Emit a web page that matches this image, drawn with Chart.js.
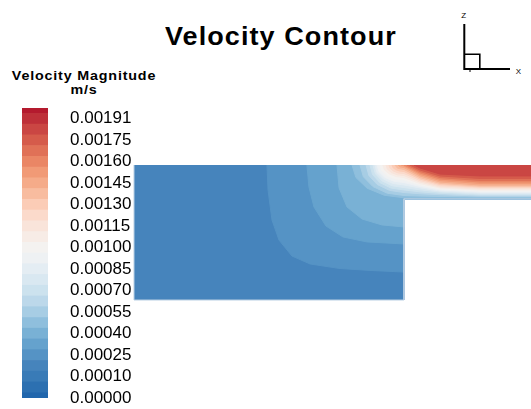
<!DOCTYPE html>
<html lang="en">
<head>
<meta charset="utf-8">
<title>Velocity Contour</title>
<script src="https://cdn.jsdelivr.net/npm/chart.js@4.4.1/dist/chart.umd.min.js"></script>
<style>
  html, body { margin: 0; padding: 0; background: #fff; }
  body { position: relative; width: 531px; height: 409px; overflow: hidden; font-family: "Liberation Sans", Arial, sans-serif; color: #000; }
  canvas, svg { position: absolute; top: 0; left: 0; }
  .plot-title { position: absolute; left: 165px; top: 24px; font: bold 25px/25px "Liberation Sans", Arial, sans-serif; letter-spacing: 1px; white-space: nowrap; transform: scaleX(1.08); transform-origin: 0 0; }
  .legend-title { position: absolute; left: 0; top: 69.4px; width: 168px; text-align: center; font: bold 13px/13.6px "Liberation Sans", Arial, sans-serif; letter-spacing: 0.75px; white-space: nowrap; transform: scaleX(1.1); transform-origin: 84px 0; }
</style>
</head>
<body>
  <div class="plot-title">Velocity Contour</div>
  <div class="legend-title">Velocity Magnitude<br>m/s</div>
  <svg width="531" height="80" viewBox="0 0 531 80">
    <g stroke="#000" fill="none">
      <path d="M464.3 24 V68.9 H510" stroke-width="2"/>
      <path d="M464.3 54.3 H479.8 V68.9" stroke-width="1.6"/>
      <path d="M470 68.9 V72" stroke-width="1"/>
    </g>
    <text x="463.8" y="17.5" font-size="8" font-family="Liberation Sans, Arial" text-anchor="middle">Z</text>
    <text x="518.5" y="74" font-size="8" font-family="Liberation Sans, Arial" text-anchor="middle">X</text>
  </svg>
  <canvas id="fieldChart" width="531" height="409"></canvas>
  <canvas id="legendChart" width="148" height="409"></canvas>

<script>
// contour levels 0..27, labelled on every second level
const legendLabels = ["0.00000", "0.00010", "0.00025", "0.00040", "0.00055", "0.00070", "0.00085",
  "0.00100", "0.00115", "0.00130", "0.00145", "0.00160", "0.00175", "0.00191"];
const legendLevels = [0, 2, 4, 6, 8, 10, 12, 14, 16, 18, 20, 22, 24, 26];

const levelColors = [
  "#2166ac", "#2c70b1", "#397bb7", "#4684bc", "#5593c5", "#65a2cd", "#79b1d5",
  "#8fbfdd", "#a7cde4", "#bcd8ea", "#cce2ee", "#d9e8f1", "#e4edf3", "#eef1f3",
  "#f4f2f0", "#f7ece6", "#f9e4da", "#fbdacb", "#fbccb6", "#f8bc9f", "#f5ab89",
  "#f19a76", "#ea8665", "#e07157", "#d55b4b", "#ca4643", "#be3039", "#b41a2e",
];

// geometry in mm: cavity 2.0 x 1.0, channel 0.25 high above its right end
const domain = [[0, 1], [2.941, 1], [2.941, 0.75], [2.0, 0.75], [2.0, 0], [0, 0]];
const walls = [[2.941, 0.75], [2.0, 0.75], [2.0, 0], [0, 0], [0, 1]];

// iso-velocity lines [x, z]; region above/right of isoNN has level NN
const iso04 = [[0.985, 1.0], [0.993, 0.815], [1.022, 0.593], [1.074, 0.444], [1.170, 0.326], [1.304, 0.267], [1.526, 0.233], [1.748, 0.219], [2.0, 0.207]];
const iso05 = [[1.281, 1.0], [1.296, 0.837], [1.333, 0.689], [1.422, 0.548], [1.548, 0.467], [1.726, 0.430], [2.0, 0.415]];
const iso06 = [[1.504, 1.0], [1.519, 0.830], [1.578, 0.689], [1.689, 0.600], [1.837, 0.556], [2.0, 0.541]];
const iso07 = [[1.615, 1.0], [1.644, 0.907], [1.727, 0.828], [1.853, 0.776], [2.0, 0.757], [2.119, 0.759], [2.941, 0.759]];
const iso08 = [[1.674, 1.0], [1.699, 0.913], [1.770, 0.840], [1.876, 0.791], [2.0, 0.774], [2.119, 0.770], [2.267, 0.767], [2.563, 0.764], [2.941, 0.764]];
const iso09 = [[1.719, 1.0], [1.740, 0.922], [1.801, 0.856], [1.893, 0.812], [2.0, 0.796], [2.119, 0.787], [2.267, 0.780], [2.563, 0.770], [2.941, 0.770]];
const iso10 = [[1.748, 1.0], [1.767, 0.929], [1.822, 0.869], [1.904, 0.829], [2.0, 0.815], [2.119, 0.801], [2.267, 0.790], [2.563, 0.778], [2.941, 0.778]];
const iso11 = [[1.770, 1.0], [1.788, 0.936], [1.838, 0.882], [1.912, 0.846], [2.0, 0.833], [2.119, 0.816], [2.267, 0.800], [2.563, 0.785], [2.941, 0.785]];
const iso12 = [[1.785, 1.0], [1.801, 0.943], [1.848, 0.896], [1.918, 0.863], [2.0, 0.852], [2.119, 0.830], [2.267, 0.807], [2.563, 0.793], [2.941, 0.793]];
const iso13 = [[1.800, 1.0], [1.816, 0.950], [1.859, 0.908], [1.924, 0.880], [2.0, 0.870], [2.119, 0.841], [2.267, 0.815], [2.563, 0.800], [2.941, 0.800]];
const iso14 = [[1.822, 1.0], [1.836, 0.958], [1.874, 0.921], [1.932, 0.897], [2.0, 0.889], [2.119, 0.852], [2.267, 0.822], [2.563, 0.807], [2.941, 0.807]];
const iso15 = [[1.844, 1.0], [1.856, 0.964], [1.890, 0.935], [1.941, 0.915], [2.0, 0.907], [2.119, 0.863], [2.267, 0.830], [2.563, 0.815], [2.941, 0.815]];
const iso16 = [[1.867, 1.0], [1.877, 0.970], [1.906, 0.945], [1.949, 0.928], [2.0, 0.922], [2.119, 0.874], [2.267, 0.837], [2.563, 0.822], [2.941, 0.822]];
const iso17 = [[1.889, 1.0], [1.897, 0.976], [1.921, 0.956], [1.958, 0.941], [2.0, 0.937], [2.119, 0.885], [2.267, 0.846], [2.563, 0.830], [2.941, 0.830]];
const iso18 = [[1.911, 1.0], [1.918, 0.981], [1.937, 0.966], [1.966, 0.956], [2.0, 0.952], [2.119, 0.896], [2.267, 0.855], [2.563, 0.837], [2.941, 0.837]];
const iso19 = [[1.933, 1.0], [1.953, 0.976], [2.0, 0.967], [2.119, 0.907], [2.267, 0.864], [2.563, 0.844], [2.941, 0.844]];
const iso20 = [[1.956, 1.0], [1.969, 0.987], [2.0, 0.981], [2.119, 0.919], [2.267, 0.874], [2.563, 0.852], [2.941, 0.852]];
const iso21 = [[1.978, 1.0], [2.0, 0.993], [2.119, 0.930], [2.267, 0.885], [2.563, 0.863], [2.941, 0.863]];
const iso22 = [[2.0, 1.0], [2.119, 0.941], [2.267, 0.896], [2.563, 0.874], [2.941, 0.874]];
const iso23 = [[2.022, 1.0], [2.119, 0.952], [2.267, 0.907], [2.563, 0.885], [2.941, 0.885]];
const iso24 = [[2.044, 1.0], [2.119, 0.963], [2.267, 0.919], [2.563, 0.900], [2.941, 0.900]];
const iso25 = [[2.074, 1.0], [2.119, 0.978], [2.267, 0.933], [2.563, 0.919], [2.941, 0.919]];

const baseLevel = 3;
const isolines = [
  [4, iso04], [5, iso05], [6, iso06], [7, iso07], [8, iso08], [9, iso09], [10, iso10],
  [11, iso11], [12, iso12], [13, iso13], [14, iso14], [15, iso15], [16, iso16], [17, iso17],
  [18, iso18], [19, iso19], [20, iso20], [21, iso21], [22, iso22], [23, iso23], [24, iso24], [25, iso25],
];

(function () {
  Chart.defaults.font.family = "'Liberation Sans', Arial, sans-serif";
  Chart.defaults.color = "#000";

  function toXY(points) {
    return points.map(function (p) { return { x: p[0], y: p[1] }; });
  }

  // close an isoline along the domain boundary on its high side
  function region(points) {
    const last = points[points.length - 1];
    const tail = last[0] <= 2.0 ? [[2.0, 0.75], [2.941, 0.75], [2.941, 1]] : [[2.941, 1]];
    return toXY(points.concat(tail));
  }

  function bandDataset(points, level) {
    return {
      data: points,
      backgroundColor: levelColors[level],
      borderColor: levelColors[level],
      borderWidth: 1,
      fill: "shape",
      pointRadius: 0,
      tension: 0,
      clip: 0,
      order: -level,
    };
  }

  function initField() {
    const canvas = document.getElementById("fieldChart");
    const datasets = [bandDataset(toXY(domain), baseLevel)];
    isolines.forEach(function (item) {
      datasets.push(bandDataset(region(item[1]), item[0]));
    });
    datasets.push({
      data: toXY(walls),
      borderColor: "#b9cfe3",
      borderWidth: 1,
      fill: false,
      pointRadius: 0,
      clip: false,
      order: -100,
    });

    new Chart(canvas, {
      type: "line",
      data: { datasets: datasets },
      options: {
        responsive: false,
        animation: false,
        layout: { padding: { left: 134, top: 165, right: 0, bottom: 109 } },
        plugins: { legend: { display: false }, tooltip: { enabled: false } },
        scales: {
          x: { type: "linear", min: 0, max: 2.941, display: false },
          y: { type: "linear", min: 0, max: 1, display: false },
        },
      },
    });
  }

  function initLegend() {
    const canvas = document.getElementById("legendChart");
    const top = levelColors.length - 1;
    const datasets = levelColors.map(function (color, i) {
      return {
        data: [[Math.max(i - 0.5, 0), Math.min(i + 0.5, top)]],
        backgroundColor: color,
        borderWidth: 0,
        grouped: false,
        barPercentage: 1,
        categoryPercentage: 1,
        clip: 0,
      };
    });

    new Chart(canvas, {
      type: "bar",
      data: { labels: ["m/s"], datasets: datasets },
      options: {
        responsive: false,
        animation: false,
        layout: { padding: { left: 22, top: 108, right: 0, bottom: 11 } },
        plugins: { legend: { display: false }, tooltip: { enabled: false } },
        scales: {
          x: { display: false },
          y: {
            position: "right",
            min: 0,
            max: top,
            grid: { display: false },
            border: { display: false },
            afterFit: function (scale) {
              scale.width = 100;
              scale.paddingTop = 0;
              scale.paddingBottom = 0;
            },
            afterBuildTicks: function (scale) {
              scale.ticks = legendLevels.map(function (v) { return { value: v }; });
            },
            ticks: {
              autoSkip: false,
              padding: 14,
              font: { size: 17 },
              color: "#000",
              callback: function (value, index) { return legendLabels[index]; },
            },
          },
        },
      },
    });
  }

  document.addEventListener("DOMContentLoaded", function () {
    initField();
    initLegend();
  });
})();
</script>
</body>
</html>
